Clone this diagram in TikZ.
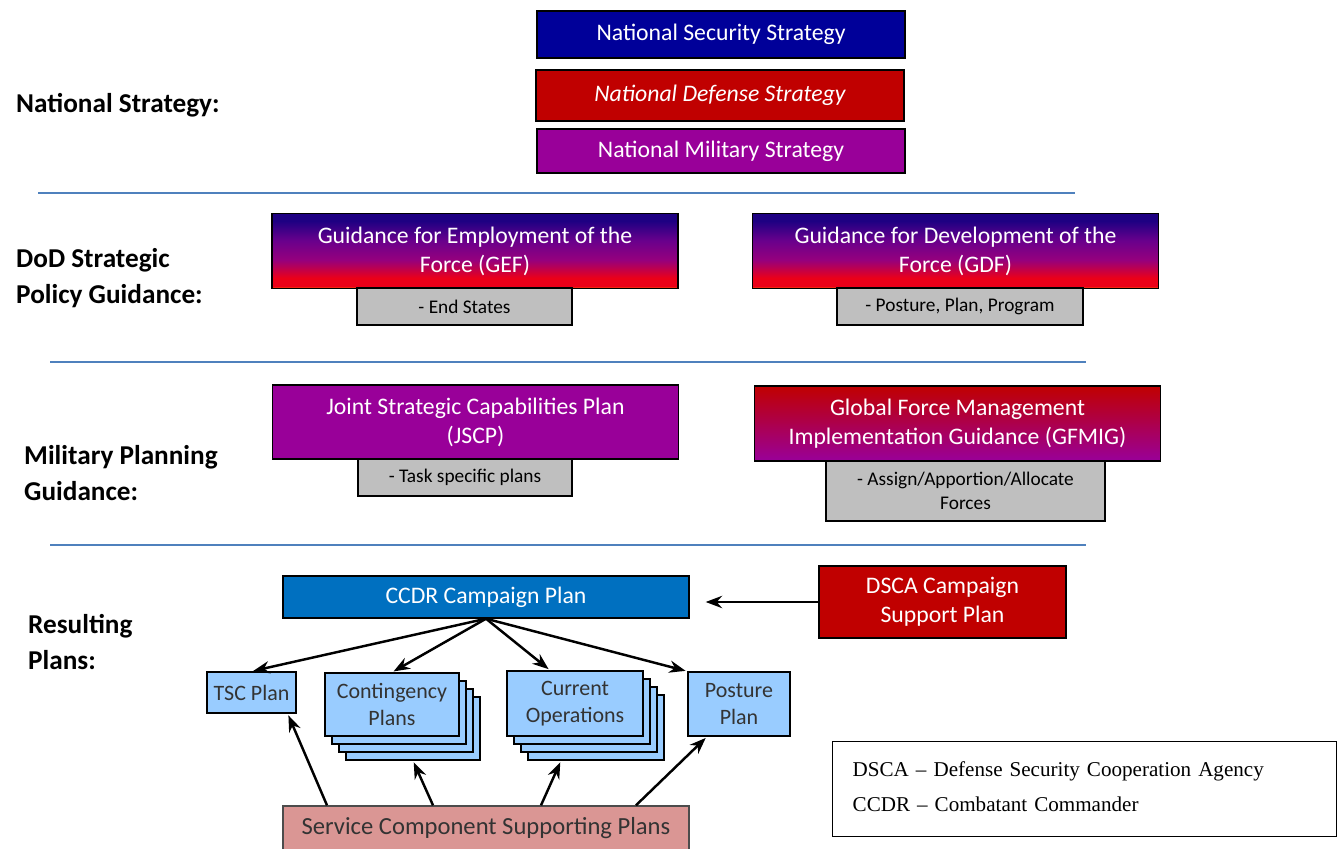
\documentclass[tikz,border=0pt]{standalone}
\usepackage{fontspec}
\setmainfont{Carlito}
\newfontfamily\legendfont[Ligatures=TeX]{Liberation Serif}
\usetikzlibrary{arrows.meta}
\definecolor{nssblue}{RGB}{0,0,153}
\definecolor{ndsred}{RGB}{192,0,0}
\definecolor{nmspurple}{RGB}{153,0,153}
\definecolor{rulecol}{RGB}{79,129,189}
\definecolor{subgray}{RGB}{191,191,191}
\definecolor{ccdrblue}{RGB}{0,112,192}
\definecolor{planblue}{RGB}{153,204,255}
\definecolor{scsppink}{RGB}{218,150,148}
\definecolor{gefnavy}{RGB}{30,0,130}
\definecolor{gefplum}{RGB}{105,0,140}
\definecolor{gefmagenta}{RGB}{150,0,125}
\definecolor{gefred}{RGB}{235,0,25}
\definecolor{geforange}{RGB}{255,110,0}
\pgfdeclareverticalshading{gefshade}{100bp}{color(0bp)=(geforange); color(25bp)=(geforange);
  color(26.5bp)=(gefred); color(32bp)=(gefred); color(44bp)=(gefmagenta); color(57bp)=(gefplum);
  color(70bp)=(gefnavy); color(100bp)=(gefnavy)}

\begin{document}
\begin{tikzpicture}[>=Stealth,
    box/.style={draw=black, line width=0.8pt, inner sep=2pt, align=center, text=white,
      font=\fontsize{13.5}{16.5}\selectfont},
    natbox/.style={box, minimum width=7.36cm},
    guidebox/.style={box, minimum width=8.12cm, minimum height=1.5cm},
    subbox/.style={draw=black, line width=0.8pt, fill=subgray, align=center, inner sep=2pt,
      font=\fontsize{11}{14}\selectfont},
    planbox/.style={draw=black, line width=0.8pt, fill=planblue, align=center, inner sep=2pt,
      text=black!80, font=\fontsize{12.5}{15}\selectfont},
    lvl/.style={anchor=west, align=left, font=\bfseries\fontsize{15.5}{20.5}\selectfont},
    rule/.style={rulecol, line width=1.4pt},
    link/.style={->, line width=1.4pt, shorten >=1pt}]
  \useasboundingbox (0,0) rectangle (26.84,-16.98);

  % level labels and separators
  \node[lvl] (lvnat) at (0.2,-2.10) {National Strategy:};
  \node[lvl] (lvdod) at (0.2,-5.57) {DoD Strategic\\Policy Guidance:};
  \node[lvl] (lvmil) at (0.36,-9.47) {Military Planning\\Guidance:};
  \node[lvl] (lvres) at (0.44,-12.85) {Resulting\\Plans:};
  \draw[rule] (0.76,-3.86) -- (21.5,-3.86);
  \draw[rule] (1.0,-7.24) -- (21.72,-7.24);
  \draw[rule] (1.0,-10.90) -- (21.72,-10.90);

  % national strategy
  \node[natbox, fill=nssblue, minimum height=0.94cm] (nss) at (14.42,-0.69) {National Security Strategy};
  \node[natbox, fill=ndsred, minimum height=1.02cm, font=\fontsize{13.5}{16.5}\selectfont\itshape]
    (nds) at (14.40,-1.91) {National Defense Strategy};
  \node[natbox, fill=nmspurple, minimum height=0.88cm] (nms) at (14.42,-3.02) {National Military Strategy};

  % DoD guidance
  \node[guidebox, shading=gefshade] (gef) at (9.50,-5.02) {Guidance for Employment of the\\Force (GEF)};
  \node[subbox, minimum width=4.30cm, minimum height=0.74cm] (gefsub) at (9.29,-6.13) {- End States};
  \node[guidebox, shading=gefshade] (gdf) at (19.11,-5.02) {Guidance for Development of the\\Force (GDF)};
  \node[subbox, minimum width=4.92cm, minimum height=0.74cm] (gdfsub) at (19.20,-6.13) {- Posture, Plan, Program};

  % military planning guidance
  \node[guidebox, fill=nmspurple, minimum height=1.48cm] (jscp) at (9.51,-8.44) {Joint Strategic Capabilities Plan\\(JSCP)};
  \node[subbox, minimum width=4.28cm, minimum height=0.74cm] (jscpsub) at (9.30,-9.55) {- Task specific plans};
  \node[guidebox, top color=ndsred, bottom color=nmspurple] (gfmig) at (19.15,-8.47)
    {Global Force Management\\Implementation Guidance (GFMIG)};
  \node[subbox, minimum width=5.58cm, minimum height=1.20cm] (gfmigsub) at (19.31,-9.82) {- Assign/Apportion/Allocate\\Forces};

  % resulting plans
  \node[box, fill=ccdrblue, minimum width=8.12cm, minimum height=0.84cm] (ccdr) at (9.72,-11.94) {CCDR Campaign Plan};
  \node[box, fill=ndsred, minimum width=4.94cm, minimum height=1.44cm] (dsca) at (18.85,-12.04) {DSCA Campaign\\Support Plan};
  \node[planbox, minimum width=1.78cm, minimum height=0.82cm] (tsc) at (5.03,-13.85) {TSC Plan};
  \foreach \k in {3,2,1}
    \node[planbox, minimum width=2.68cm, minimum height=1.26cm] (cont\k) at ({7.84+0.14*\k},{-14.09-0.16*\k}) {};
  \node[planbox, minimum width=2.68cm, minimum height=1.26cm] (cont) at (7.84,-14.09) {Contingency\\Plans};
  \foreach \k in {3,2,1}
    \node[planbox, minimum width=2.72cm, minimum height=1.30cm] (cur\k) at ({11.50+0.14*\k},{-14.07-0.16*\k}) {};
  \node[planbox, minimum width=2.72cm, minimum height=1.30cm] (cur) at (11.50,-14.07) {Current\\Operations};
  \node[planbox, minimum width=2.04cm, minimum height=1.28cm] (post) at (14.78,-14.08) {Posture\\Plan};
  \node[draw=black!70, line width=0.8pt, fill=scsppink, minimum width=8.12cm, minimum height=0.88cm,
    font=\fontsize{14}{17}\selectfont, text=black!80] (scsp) at (9.72,-16.56) {Service Component Supporting Plans};

  \draw[link, shorten >=0.32cm] (dsca.west) -- (dsca.west -| ccdr.east);
  \draw[link] (ccdr.south) -- (tsc.north);
  \draw[link] (ccdr.south) -- (cont.north);
  \draw[link] (ccdr.south) -- ([xshift=-0.5cm]cur.north);
  \draw[link] (ccdr.south) -- (post.north west);
  \draw[link] ([xshift=-3.18cm]scsp.north) -- ([xshift=-0.18cm]tsc.south east);
  \draw[link] ([xshift=-1.06cm]scsp.north) -- (cont3.south);
  \draw[link] ([xshift=1.10cm]scsp.north) -- ([xshift=-0.7cm]cur3.south);
  \draw[link] ([xshift=3.00cm]scsp.north) -- ([xshift=-0.64cm]post.south);

  % legend
  \node[draw=black, line width=0.8pt, anchor=north west, minimum height=1.9cm, text width=9.28cm,
    inner xsep=0.4cm, align=left, font=\legendfont\fontsize{12}{19.8}\selectfont] (legend) at (16.64,-14.82)
    {DSCA – Defense Security Cooperation Agency\\CCDR – Combatant Commander\vphantom{p}\\[-8pt]};
\end{tikzpicture}
\end{document}
